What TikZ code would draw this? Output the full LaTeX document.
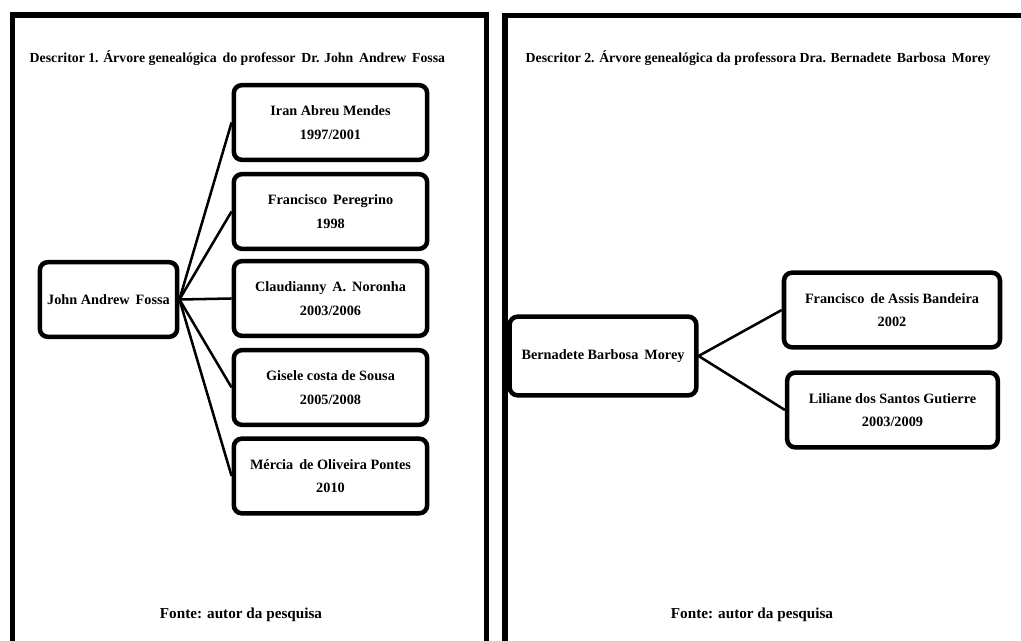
\documentclass[tikz,border=0pt]{standalone}
\usepackage{fontspec}
\setmainfont{Liberation Serif}
\usepackage{tikz}

\begin{document}
\begin{tikzpicture}[x=0.75pt,y=-0.75pt]
                \tikzset{person/.style = {shape=rectangle,draw,line width=3.4pt,rounded corners=6pt,
                        align=center,inner sep=2pt,minimum height=56pt,
                        font=\bfseries\fontsize{10.7}{17.5}\selectfont}}
                \tikzset{edge/.style = {line width=1.9pt}}
                \tikzset{panel/.style = {line width=3.8pt}}
                \tikzset{caption/.style = {font=\bfseries\fontsize{10.35}{13}\selectfont}}
                \tikzset{source/.style = {font=\bfseries\fontsize{11.4}{13}\selectfont}}
                \useasboundingbox (0,0) rectangle (1021,641);
                \clip (0,0) rectangle (1021,641);
                % panels
                \draw[panel] (12.5,660) -- (12.5,15) -- (486.5,15) -- (486.5,660);
                \draw[panel] (505,660) -- (505,15.5) -- (1040,15.5);
                \node[caption,anchor=west] (t1) at (25,58) {Descritor 1. Árvore genealógica\, do professor\, Dr. John\, Andrew\, Fossa};
                \node[caption,anchor=west] (t2) at (521,58) {Descritor 2. Árvore genealógica da professora Dra. Bernadete\, Barbosa\, Morey};
                \node[source] (f1) at (241,615) {Fonte: autor da pesquisa};
                \node[source] (f2) at (752,615) {Fonte: autor da pesquisa};

                % vertices
                \node[person,minimum width=103pt] (fossa) at (108.5,299.5) {John Andrew\, Fossa};
                \node[person,minimum width=145pt] (mendes) at (330.5,122.5) {Iran Abreu Mendes\\1997/2001};
                \node[person,minimum width=145pt] (peregrino) at (330.5,211.5) {Francisco\, Peregrino\\1998};
                \node[person,minimum width=145pt] (noronha) at (330.5,298.5) {Claudianny\, A.\, Noronha\\2003/2006};
                \node[person,minimum width=145pt] (sousa) at (330.5,387.5) {Gisele costa de Sousa\\2005/2008};
                \node[person,minimum width=145pt] (pontes) at (330.5,476) {Mércia\, de Oliveira Pontes\\2010};

                \node[person,minimum width=140pt,minimum height=59pt] (morey) at (603,356) {Bernadete Barbosa\, Morey};
                \node[person,minimum width=162pt] (bandeira) at (892,310) {Francisco\, de Assis Bandeira\\2002};
                \node[person,minimum width=158pt] (gutierre) at (892.5,410) {Liliane dos Santos Gutierre\\2003/2009};

                %edges
                \draw[edge] (fossa.east) to (mendes.west);
                \draw[edge] (fossa.east) to (peregrino.west);
                \draw[edge] (fossa.east) to (noronha.west);
                \draw[edge] (fossa.east) to (sousa.west);
                \draw[edge] (fossa.east) to (pontes.west);
                \draw[edge] (morey.east) to (bandeira.west);
                \draw[edge] (morey.east) to (gutierre.west);
            \end{tikzpicture}
\end{document}
